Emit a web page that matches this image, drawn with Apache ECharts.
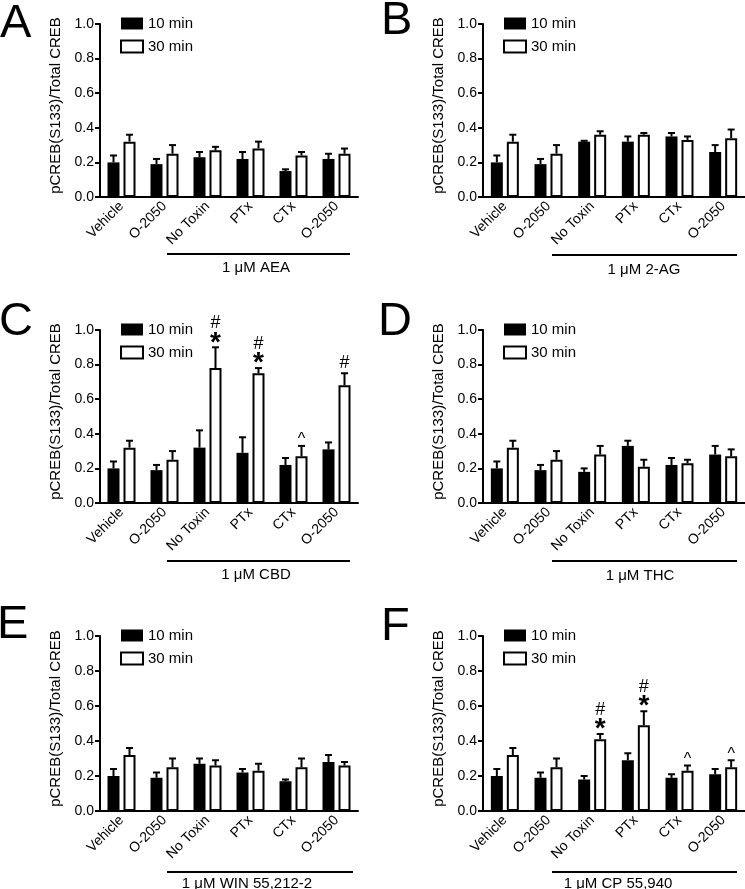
<!DOCTYPE html>
<html><head><meta charset="utf-8">
<script src="https://cdn.jsdelivr.net/npm/echarts@6/dist/echarts.min.js"></script>
<style>html,body{margin:0;padding:0;background:#fff}#c{width:745px;height:889px}</style>
</head><body><div id="c"></div><script>
// ---------- data ----------
const categories = ['Vehicle', 'O-2050', 'No Toxin', 'PTx', 'CTx', 'O-2050'];
const seriesNames = ['10 min', '30 min'];
const yTitle = 'pCREB(S133)/Total CREB';
const yMin = 0, yMax = 1, yStep = 0.2;
const panelLetters = ['A', 'B', 'C', 'D', 'E', 'F'];
const treatments = ['1 \u03bcM AEA', '1 \u03bcM 2-AG', '1 \u03bcM CBD', '1 \u03bcM THC', '1 \u03bcM WIN 55,212-2', '1 \u03bcM CP 55,940'];

const A_10 = [0.20, 0.19, 0.23, 0.22, 0.15, 0.22];
const A_10sem = [0.04, 0.03, 0.03, 0.04, 0.01, 0.03];
const A_30 = [0.32, 0.25, 0.27, 0.28, 0.24, 0.25];
const A_30sem = [0.04, 0.05, 0.02, 0.04, 0.02, 0.03];

const B_10 = [0.20, 0.19, 0.32, 0.32, 0.35, 0.26];
const B_10sem = [0.04, 0.03, 0.005, 0.03, 0.02, 0.04];
const B_30 = [0.32, 0.25, 0.36, 0.36, 0.33, 0.34];
const B_30sem = [0.04, 0.05, 0.02, 0.01, 0.02, 0.05];

const C_10 = [0.20, 0.19, 0.32, 0.29, 0.22, 0.31];
const C_10sem = [0.04, 0.03, 0.10, 0.09, 0.04, 0.04];
const C_30 = [0.32, 0.25, 0.78, 0.75, 0.27, 0.68];
const C_30sem = [0.04, 0.05, 0.12, 0.03, 0.06, 0.07];
const C_30marks = ['', '', '#*', '#*', '^', '#'];

const D_10 = [0.20, 0.19, 0.18, 0.33, 0.22, 0.28];
const D_10sem = [0.04, 0.03, 0.02, 0.03, 0.04, 0.05];
const D_30 = [0.32, 0.25, 0.28, 0.21, 0.23, 0.27];
const D_30sem = [0.04, 0.05, 0.05, 0.04, 0.02, 0.04];

const E_10 = [0.20, 0.19, 0.27, 0.22, 0.17, 0.28];
const E_10sem = [0.04, 0.03, 0.03, 0.02, 0.01, 0.04];
const E_30 = [0.32, 0.25, 0.26, 0.23, 0.25, 0.26];
const E_30sem = [0.04, 0.05, 0.03, 0.04, 0.05, 0.02];

const F_10 = [0.20, 0.19, 0.18, 0.29, 0.19, 0.21];
const F_10sem = [0.04, 0.03, 0.02, 0.04, 0.02, 0.03];
const F_30 = [0.32, 0.25, 0.41, 0.49, 0.23, 0.25];
const F_30sem = [0.04, 0.05, 0.03, 0.08, 0.03, 0.04];
const F_30marks = ['', '', '#*', '#*', '^', '^'];

const panels = [
  {m10: A_10, s10: A_10sem, m30: A_30, s30: A_30sem, marks: null},
  {m10: B_10, s10: B_10sem, m30: B_30, s30: B_30sem, marks: null},
  {m10: C_10, s10: C_10sem, m30: C_30, s30: C_30sem, marks: C_30marks},
  {m10: D_10, s10: D_10sem, m30: D_30, s30: D_30sem, marks: null},
  {m10: E_10, s10: E_10sem, m30: E_30, s30: E_30sem, marks: null},
  {m10: F_10, s10: F_10sem, m30: F_30, s30: F_30sem, marks: F_30marks}
];

// ---------- layout / style ----------
const FONT = '"Liberation Sans", Arial, Helvetica, sans-serif';
const BAR_W = 12, BAR_GAP = 4, CAP = 7;
const OFF = (BAR_W + BAR_GAP) / 2;
const cols = [{left: 100, width: 258}, {left: 483, width: 262}];
const rows = [{top: 24, height: 173}, {top: 330, height: 173}, {top: 636, height: 175}];
const letterPos = [[0, 24], [381, 21], [-1, 322], [378, 322], [-3, 625], [381, 627]];
const bracket = [
  {x1: 167, x2: 350, y: 254, tx: 256, ty: 268},
  {x1: 552, x2: 737, y: 255, tx: 644, ty: 270},
  {x1: 167, x2: 350, y: 561, tx: 256, ty: 575},
  {x1: 552, x2: 737, y: 561, tx: 640, ty: 576},
  {x1: 167, x2: 353, y: 872, tx: 247, ty: 884},
  {x1: 552, x2: 737, y: 872, tx: 618, ty: 884}
];

const grids = [], xAxes = [], yAxes = [], series = [], legends = [], graphics = [];

function errSeries(i, means, sems, sign, marks) {
  return {
    type: 'custom', xAxisIndex: i, yAxisIndex: i, z: 5, silent: true,
    data: means.map((m, k) => [k, m, m + sems[k]]),
    renderItem: (params, api) => {
      const k = api.value(0), m = api.value(1), up = api.value(2);
      const base = api.coord([k, m]);
      const top = api.coord([k, up]);
      const x = base[0] + sign * OFF;
      const ch = [
        {type: 'line', shape: {x1: x, y1: base[1], x2: x, y2: top[1]}, style: {stroke: '#000', lineWidth: 2}},
        {type: 'line', shape: {x1: x - CAP / 2, y1: top[1], x2: x + CAP / 2, y2: top[1]}, style: {stroke: '#000', lineWidth: 2}}
      ];
      const mk = marks ? marks[params.dataIndex] : '';
      if (mk) {
        const t = top[1];
        const txt = (s, cy, size, bold) => ({type: 'text', style: {text: s, x: x, y: cy, align: 'center', verticalAlign: 'middle', fontSize: size, fontWeight: bold ? 'bold' : 'normal', fontFamily: FONT, fill: '#000'}});
        if (mk === '#*') {
          ch.push(txt('*', t - 10.5 + 6, 28, true));
          ch.push(txt('#', t - 25 + 1, 18, false));
        } else if (mk === '#') {
          ch.push(txt('#', t - 11 + 1, 18, false));
        } else if (mk === '^') {
          ch.push(txt('^', t - 10 + 4, 16, false));
        }
      }
      return {type: 'group', children: ch};
    }
  };
}

panels.forEach((p, i) => {
  const c = cols[i % 2], r = rows[Math.floor(i / 2)];
  grids.push({left: c.left, top: r.top, width: c.width, height: r.height});
  xAxes.push({
    type: 'category', gridIndex: i, data: categories,
    axisLine: {lineStyle: {color: '#000', width: 2}},
    axisTick: {alignWithLabel: true, length: 5, lineStyle: {color: '#000', width: 2}},
    axisLabel: {rotate: 45, interval: 0, fontSize: 14, color: '#000', fontFamily: FONT, margin: 7}
  });
  yAxes.push({
    type: 'value', gridIndex: i, min: yMin, max: yMax, interval: yStep,
    name: yTitle, nameLocation: 'middle', nameGap: 37,
    nameTextStyle: {fontSize: 15, color: '#000', fontFamily: FONT, padding: [0, 0, 0, 10]},
    axisLine: {show: true, lineStyle: {color: '#000', width: 2}},
    axisTick: {show: true, length: 5, lineStyle: {color: '#000', width: 2}},
    axisLabel: {formatter: v => v.toFixed(1), fontSize: 14, color: '#000', fontFamily: FONT, margin: 6},
    splitLine: {show: false}
  });
  series.push({type: 'bar', name: seriesNames[0], xAxisIndex: i, yAxisIndex: i, data: p.m10,
    barWidth: BAR_W, barGap: (BAR_GAP / BAR_W * 100) + '%', itemStyle: {color: '#000'}});
  series.push({type: 'bar', name: seriesNames[1], xAxisIndex: i, yAxisIndex: i, data: p.m30,
    barWidth: BAR_W, barGap: (BAR_GAP / BAR_W * 100) + '%', itemStyle: {color: '#fff', borderColor: '#000', borderWidth: 2}});
  series.push(errSeries(i, p.m10, p.s10, -1, null));
  series.push(errSeries(i, p.m30, p.s30, 1, p.marks));
  legends.push({
    data: seriesNames, orient: 'vertical', left: c.left + 15, top: r.top - 13,
    itemWidth: 22, itemHeight: 12, itemGap: 8, icon: 'rect', selectedMode: false,
    textStyle: {fontSize: 15, color: '#000', fontFamily: FONT}
  });
  graphics.push({type: 'text', style: {text: panelLetters[i], x: letterPos[i][0], y: letterPos[i][1], align: 'left', verticalAlign: 'middle', fontSize: 47, fontFamily: FONT, fill: '#000'}});
  const b = bracket[i];
  graphics.push({type: 'line', shape: {x1: b.x1, y1: b.y, x2: b.x2, y2: b.y}, style: {stroke: '#000', lineWidth: 2}});
  graphics.push({type: 'text', style: {text: treatments[i], x: b.tx, y: b.ty, align: 'center', verticalAlign: 'middle', fontSize: 15, fontFamily: FONT, fill: '#000'}});
});

const chart = echarts.init(document.getElementById('c'), null, {renderer: 'canvas'});
chart.setOption({
  animation: false,
  backgroundColor: '#fff',
  grid: grids, xAxis: xAxes, yAxis: yAxes, series: series, legend: legends, graphic: graphics
});
</script></body></html>
